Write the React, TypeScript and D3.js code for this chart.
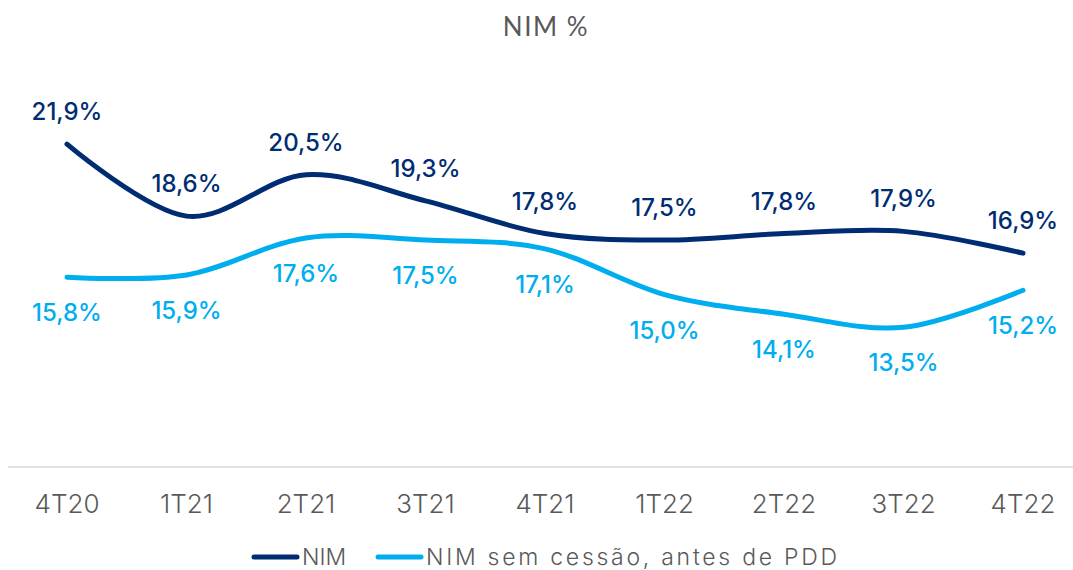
import React, { useEffect, useRef } from 'react';
import * as d3 from 'd3';

const categories = ['4T20', '1T21', '2T21', '3T21', '4T21', '1T22', '2T22', '3T22', '4T22'];
const nim = [21.9, 18.6, 20.5, 19.3, 17.8, 17.5, 17.8, 17.9, 16.9];
const nimSemCessao = [15.8, 15.9, 17.6, 17.5, 17.1, 15.0, 14.1, 13.5, 15.2];
const seriesNames = ['NIM', 'NIM sem cessão, antes de PDD'];

const W = 1073;
const H = 570;
const DARK = '#002D72';
const LIGHT = '#00AEEF';
const GREY = '#595959';
const LABEL_FONT = 'Inter, "Noto Sans", sans-serif';

const fmt = (v: number) => v.toFixed(1).replace('.', ',') + '%';

export default function App() {
  const svgRef = useRef<SVGSVGElement>(null);

  useEffect(() => {
    if (!svgRef.current) return;
    const svg = d3.select(svgRef.current);
    svg.selectAll('*').remove();

    const x = d3.scalePoint<string>().domain(categories).range([67, 1023]);
    const y = d3.scaleLinear().domain([7, 22]).range([469, 142]);

    // title
    svg.append('text')
      .attr('x', 546).attr('y', 36)
      .attr('text-anchor', 'middle')
      .style('font-family', 'Lato, sans-serif')
      .style('font-size', '26px')
      .style('letter-spacing', '1.5px')
      .style('fill', GREY)
      .text('NIM %');

    // baseline
    svg.append('line')
      .attr('x1', 8).attr('x2', W)
      .attr('y1', 467).attr('y2', 467)
      .attr('stroke', '#d9d9d9').attr('stroke-width', 1.5);

    // category labels
    svg.append('g').selectAll('text')
      .data(categories)
      .enter().append('text')
      .attr('x', d => x(d)!)
      .attr('y', 513)
      .attr('text-anchor', 'middle')
      .style('font-family', LABEL_FONT)
      .style('font-size', '26px')
      .style('font-weight', 300)
      .style('fill', GREY)
      .text(d => d);

    const line = d3.line<number>()
      .x((_, i) => x(categories[i])!)
      .y(d => y(d))
      .curve(d3.curveCatmullRom.alpha(0));

    const series = [
      { values: nimSemCessao, color: LIGHT, dy: 44 },
      { values: nim, color: DARK, dy: -24 },
    ];

    series.forEach(s => {
      svg.append('path')
        .datum(s.values)
        .attr('d', line)
        .attr('fill', 'none')
        .attr('stroke', s.color)
        .attr('stroke-width', 5)
        .attr('stroke-linecap', 'round');

      svg.append('g').selectAll('text')
        .data(s.values)
        .enter().append('text')
        .attr('x', (_, i) => x(categories[i])!)
        .attr('y', d => y(d) + s.dy)
        .attr('text-anchor', 'middle')
        .style('font-family', LABEL_FONT)
        .style('font-size', '24px')
        .style('font-weight', 500)
        .style('fill', s.color)
        .text(d => fmt(d));
    });

    // legend
    const legend = [
      { name: seriesNames[0], color: DARK, x0: 254, len: 0 },
      { name: seriesNames[1], color: LIGHT, x0: 378, len: 411 },
    ];
    legend.forEach(l => {
      svg.append('line')
        .attr('x1', l.x0).attr('x2', l.x0 + 43)
        .attr('y1', 557).attr('y2', 557)
        .attr('stroke', l.color).attr('stroke-width', 5)
        .attr('stroke-linecap', 'round');
      const t = svg.append('text')
        .attr('x', l.x0 + 48).attr('y', 565)
        .style('font-family', LABEL_FONT)
        .style('font-size', '23px')
        .style('font-weight', 300)
        .style('fill', GREY)
        .text(l.name);
      if (l.len) t.attr('textLength', l.len).attr('lengthAdjust', 'spacing');
    });
  }, []);

  return (
    <svg
      ref={svgRef}
      width={W}
      height={H}
      style={{ position: 'absolute', left: 0, top: 0, background: '#fff' }}
    />
  );
}
